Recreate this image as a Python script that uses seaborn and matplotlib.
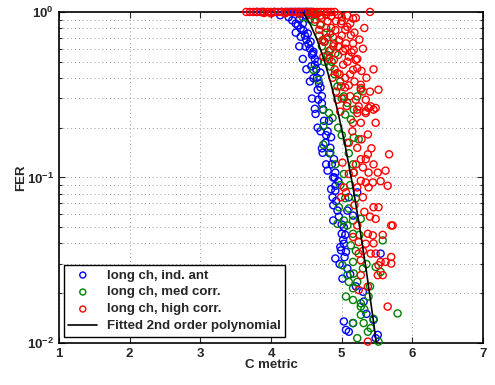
import numpy as np
import pandas as pd
import matplotlib
matplotlib.use('Agg')
import matplotlib.pyplot as plt
import seaborn as sb

# long ch, ind. ant (blue)
ind_c = [3.80, 3.88, 4.05, 4.15, 4.22, 4.28, 4.33, 4.38, 4.42, 4.47, 4.52, 4.56,
         4.13, 4.25, 4.35, 4.30, 4.42, 4.38, 4.52, 4.46, 4.56, 4.42, 4.49, 4.59, 4.60, 4.50,
         4.66, 4.55, 4.62, 4.60, 4.66, 4.67, 4.63, 4.74, 4.64, 4.70, 4.57, 4.68, 4.72,
         4.66, 4.77, 4.73, 4.84, 4.89, 4.91, 4.91, 4.91, 4.87, 5.10, 5.22, 4.94, 5.08, 5.16,
         5.03, 4.80, 4.85, 4.82, 4.78, 4.88, 4.95,
         5.00, 5.03, 4.99, 5.06, 4.91, 5.08, 5.01, 5.55, 5.30, 5.31, 5.45, 5.10, 5.51, 5.48,
         5.16, 5.03, 5.06, 5.02, 4.98, 5.04,
         4.45, 4.48, 4.53, 4.58, 4.62, 4.65, 4.70, 4.72, 4.75, 4.78, 4.83, 4.86, 4.90, 4.92,
         4.96, 5.00, 5.05, 4.88, 4.97, 5.12, 5.20, 5.35, 4.50, 4.40,
         4.35, 4.40, 4.45, 4.50, 4.55, 4.58, 4.62, 4.70, 4.72, 4.80, 4.85, 4.88]
ind_fer = [1.0, 1.0, 1.0, 1.0, 1.0, 1.0, 1.0, 1.0, 1.0, 1.0, 1.0, 1.0,
           0.955, 0.93, 0.851, 0.89, 0.794, 0.83, 0.741, 0.77, 0.661, 0.708, 0.617, 0.562, 0.575, 0.68,
           0.501, 0.60, 0.52, 0.398, 0.339, 0.295, 0.242, 0.257, 0.45, 0.43, 0.47, 0.37, 0.31,
           0.200, 0.162, 0.141, 0.151, 0.129, 0.107, 0.0891, 0.0832, 0.0759, 0.0759, 0.0813, 0.0631, 0.0631, 0.0589,
           0.0501, 0.19, 0.175, 0.22, 0.12, 0.10, 0.095,
           0.0457, 0.0398, 0.0363, 0.0355, 0.0324, 0.0282, 0.0245, 0.0347, 0.0204, 0.0178, 0.0138, 0.0117, 0.0112, 0.0107,
           0.0132, 0.0135, 0.0120, 0.042, 0.038, 0.033,
           0.85, 0.72, 0.64, 0.55, 0.48, 0.40, 0.35, 0.28, 0.22, 0.18, 0.14, 0.12, 0.10, 0.072,
           0.058, 0.052, 0.045, 0.068, 0.030, 0.026, 0.022, 0.015, 0.95, 0.90,
           0.75, 0.62, 0.52, 0.45, 0.38, 0.30, 0.26, 0.19, 0.15, 0.11, 0.085, 0.055]

# long ch, med corr. (green)
med_c = [4.50, 4.58, 4.65, 4.45, 4.55, 4.62, 4.70, 4.84, 4.89, 4.91, 4.60, 4.67, 4.73,
         4.84, 4.94, 5.03, 5.08, 4.82, 4.87, 5.27, 5.22, 5.17, 5.13, 4.78, 4.72, 4.80, 4.75,
         4.74, 4.74, 4.84, 4.91, 5.08, 5.17, 5.24, 5.03, 5.16, 5.17, 4.96, 5.03, 5.16, 5.27,
         5.08, 4.94, 4.98, 5.05,
         5.16, 5.58, 5.13, 5.01, 5.16, 5.30, 5.08, 5.17, 5.10, 5.22, 5.16, 5.06, 5.16, 5.27,
         5.38, 5.79, 5.27, 5.16, 5.31, 5.41, 5.22, 5.52, 5.48, 5.55, 5.27, 5.37,
         4.68, 4.76, 4.82, 4.86, 4.90, 4.98, 5.00, 5.05, 4.95, 5.00, 5.10, 5.12, 5.20, 5.10,
         5.25, 5.20, 5.35, 5.40, 5.32, 5.45]
med_fer = [1.0, 1.0, 0.97, 0.93, 0.90, 0.87, 0.84, 0.741, 0.646, 0.562, 0.447, 0.389, 0.257,
           0.468, 0.355, 0.309, 0.282, 0.245, 0.229, 0.339, 0.309, 0.257, 0.224, 0.80, 0.62, 0.55, 0.50,
           0.204, 0.158, 0.141, 0.120, 0.162, 0.174, 0.170, 0.105, 0.120, 0.107, 0.0661, 0.0550, 0.0550, 0.0562,
           0.0513, 0.0525, 0.09, 0.075,
           0.0457, 0.0417, 0.0389, 0.0295, 0.0309, 0.0282, 0.0257, 0.0263, 0.0234, 0.0234, 0.0214, 0.0191, 0.0182, 0.0174,
           0.0191, 0.0151, 0.0148, 0.0132, 0.0132, 0.0123, 0.0107, 0.0102, 0.0288, 0.0269, 0.0166, 0.0117,
           0.72, 0.66, 0.58, 0.50, 0.42, 0.38, 0.30, 0.24, 0.20, 0.18, 0.14, 0.09, 0.075, 0.065,
           0.045, 0.036, 0.030, 0.022, 0.016, 0.014]

# long ch, high corr. (red)
high_c = [3.65, 3.70, 3.75, 3.80, 3.85, 3.90, 3.95, 4.00, 4.05, 4.10, 4.15, 4.20, 4.25, 4.30,
          4.35, 4.40, 4.45, 4.50, 4.55, 4.60, 4.65, 4.70, 4.75, 4.80, 4.85, 4.90, 5.40,
          4.40, 4.55, 4.62, 4.70, 4.78, 4.85, 4.95, 5.00, 5.08, 4.20, 4.00, 3.90,
          5.16, 5.08, 5.13, 5.06, 5.16, 5.17, 5.10, 5.20, 5.16, 5.22, 5.52, 5.30, 5.20, 5.34,
          5.24, 5.38, 5.48, 4.94, 4.99, 4.94, 4.89, 4.84, 4.96, 4.91, 4.99, 4.74, 4.73, 4.70,
          5.27, 5.27, 5.41, 5.45, 5.34, 5.22,
          4.80, 4.88, 4.95, 5.02, 5.05, 4.90, 5.00, 5.05, 4.85, 4.78, 5.10, 5.12, 5.03, 4.98, 5.07, 4.92,
          4.62, 4.68, 4.75, 4.82, 4.87, 4.92, 4.97, 5.02, 5.05, 5.12, 5.18, 5.25, 5.30, 5.22,
          5.28, 5.35, 5.12, 5.05, 5.18, 5.40, 5.45, 5.32, 5.20, 5.00, 4.88, 4.95, 5.08, 5.14, 4.72, 4.80,
          5.22, 5.34, 5.48, 5.16, 5.27, 5.37, 5.10, 5.22, 5.37, 5.67, 5.27, 5.34, 5.01, 5.30,
          5.17, 5.38, 5.51, 5.62, 5.27, 5.34, 5.44, 5.03, 5.22, 5.38, 5.65, 5.06, 5.30, 4.99,
          5.45, 5.52, 5.48, 5.70, 5.22,
          5.15, 5.28, 5.42, 5.20, 5.45, 5.10, 5.55, 5.32, 5.40, 5.18, 5.58, 5.45, 5.30,
          5.72, 5.37, 5.44, 5.16, 5.24, 5.34, 5.41, 5.48, 5.24, 5.70, 5.62, 5.55, 5.52, 5.70,
          5.27, 5.27, 5.51, 5.58, 5.24, 5.37, 5.65, 5.37]
high_fer = [1.0, 1.0, 1.0, 1.0, 1.0, 1.0, 1.0, 1.0, 1.0, 1.0, 1.0, 1.0, 1.0, 1.0,
            1.0, 1.0, 1.0, 1.0, 1.0, 1.0, 1.0, 1.0, 1.0, 1.0, 1.0, 1.0, 1.0,
            0.97, 0.96, 0.97, 0.95, 0.96, 0.94, 0.96, 0.93, 0.95, 0.98, 0.98, 0.985,
            0.912, 0.813, 0.724, 0.646, 0.646, 0.589, 0.537, 0.513, 0.447, 0.457, 0.339, 0.331, 0.295, 0.295,
            0.269, 0.263, 0.263, 0.295, 0.355, 0.427, 0.513, 0.589, 0.676, 0.776, 0.851, 0.537, 0.676, 0.832,
            0.363, 0.347, 0.269, 0.257, 0.251, 0.257,
            0.70, 0.62, 0.55, 0.48, 0.40, 0.45, 0.72, 0.60, 0.80, 0.75, 0.36, 0.42, 0.30, 0.25, 0.27, 0.88,
            0.90, 0.78, 0.66, 0.52, 0.40, 0.33, 0.42, 0.58, 0.78, 0.85, 0.75, 0.68, 0.60, 0.52,
            0.44, 0.40, 0.31, 0.35, 0.38, 0.33, 0.45, 0.80, 0.92, 0.88, 0.70, 0.62, 0.50, 0.57, 0.92, 0.88,
            0.245, 0.245, 0.214, 0.214, 0.214, 0.182, 0.162, 0.151, 0.138, 0.138, 0.129, 0.129, 0.123, 0.115,
            0.107, 0.107, 0.107, 0.110, 0.0955, 0.0933, 0.0933, 0.0871, 0.0871, 0.0871, 0.0891, 0.0813, 0.0759, 0.0759,
            0.0661, 0.0661, 0.0562, 0.0513, 0.0513,
            0.19, 0.17, 0.15, 0.12, 0.12, 0.105, 0.095, 0.062, 0.058, 0.068, 0.045, 0.040, 0.036,
            0.0513, 0.0457, 0.0447, 0.0437, 0.0407, 0.0398, 0.0347, 0.0347, 0.0347, 0.0331, 0.0309, 0.0309, 0.0295, 0.0302,
            0.0316, 0.0257, 0.0257, 0.0257, 0.0209, 0.0219, 0.0166, 0.0102]

# Fitted 2nd order polynomial
fit_c = [4.45, 4.55, 4.65, 4.75, 4.85, 4.95, 5.05, 5.15, 5.25, 5.35, 5.45, 5.49]
fit_fer = [1.0, 0.851, 0.682, 0.515, 0.366, 0.245, 0.155, 0.0918, 0.0513, 0.0270, 0.0134, 0.00998]

sb.set_style('ticks')
plt.rcParams['font.family'] = ['Liberation Sans', 'DejaVu Sans']
plt.rcParams['font.weight'] = 'bold'
plt.rcParams['axes.labelweight'] = 'bold'
plt.rcParams['mathtext.fontset'] = 'custom'
plt.rcParams['mathtext.rm'] = 'Liberation Sans:bold'
plt.rcParams['mathtext.bf'] = 'Liberation Sans:bold'
plt.rcParams['mathtext.default'] = 'bf'

fig = plt.figure(figsize=(4.95, 3.85), dpi=100)
ax = fig.add_axes([0.119, 0.109, 0.857, 0.860])

series = [(ind_c, ind_fer, (0, 0, 1), 'long ch, ind. ant'),
          (med_c, med_fer, (0, 0.5, 0), 'long ch, med corr.'),
          (high_c, high_fer, (1, 0, 0), 'long ch, high corr.')]
for cs, fs, col, lab in series:
    df = pd.DataFrame({'C': cs, 'FER': fs})
    sb.scatterplot(data=df, x='C', y='FER', ax=ax, marker='o', s=26, linewidth=1.0,
                   facecolor='none', edgecolor=col, label=lab, clip_on=False, zorder=3)

fit_df = pd.DataFrame({'C': fit_c, 'FER': fit_fer})
sb.lineplot(data=fit_df, x='C', y='FER', ax=ax, color='k', linewidth=1.2,
            label='Fitted 2nd order polynomial', zorder=4, sort=False)

ax.set_yscale('log')
ax.set_xlim(1, 7)
ax.set_ylim(1e-2, 1)
ax.set_xticks([1, 2, 3, 4, 5, 6, 7])
ax.set_xticklabels(['1', '2', '3', '4', '5', '6', '7'])
ax.grid(True, which='major', linestyle=(0, (1, 3)), color='#999999', linewidth=0.7)
ax.grid(True, which='minor', axis='y', linestyle=(0, (1, 3)), color='#999999', linewidth=0.7)
ax.tick_params(which='both', direction='in', top=True, right=True, labelsize=9.5, width=0.8)
ax.tick_params(which='major', length=4)
ax.tick_params(which='minor', length=2)
for sp in ax.spines.values():
    sp.set_linewidth(1.2)
    sp.set_color('k')
ax.set_xlabel('C metric', fontsize=9.5, fontweight='bold', labelpad=-1)
ax.set_ylabel('FER', fontsize=9.5, fontweight='bold', labelpad=0)

leg = ax.legend(loc='lower left', bbox_to_anchor=(0.005, 0.01), fontsize=9.5, frameon=True,
                fancybox=False, edgecolor='k', framealpha=1, borderpad=0.35,
                labelspacing=0.36, handlelength=2.2, handletextpad=0.7, borderaxespad=0.2,
                markerscale=0.85)
leg.get_frame().set_linewidth(1.0)
for t in leg.get_texts():
    t.set_fontweight('bold')

fig.savefig('out.png', dpi=100)
print('Finished!')
